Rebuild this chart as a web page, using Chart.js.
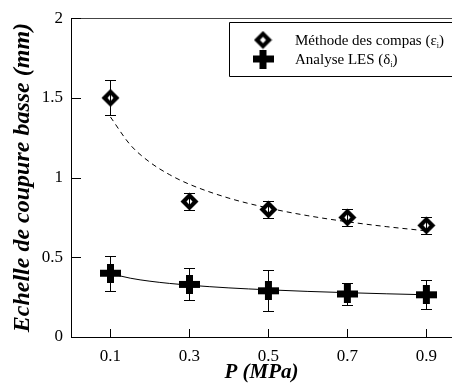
<!DOCTYPE html>
<html>
<head>
<meta charset="utf-8">
<script src="https://cdn.jsdelivr.net/npm/chart.js@4.4.1/dist/chart.umd.min.js"></script>
<style>
html,body{margin:0;padding:0;background:#fff;overflow:hidden;}
#wrap{width:452px;height:385px;}
</style>
</head>
<body>
<div id="wrap"><canvas id="c" width="452" height="385"></canvas></div>
<script>
// ---- data ----
const pressures = [0.1, 0.3, 0.5, 0.7, 0.9];
const compasValues = [1.5, 0.85, 0.80, 0.75, 0.70];
const compasErrors = [0.11, 0.055, 0.055, 0.055, 0.055];
const lesValues = [0.40, 0.33, 0.29, 0.27, 0.265];
const lesErrors = [0.11, 0.10, 0.13, 0.07, 0.09];
const fitP = [0.1, 0.15, 0.2, 0.25, 0.3, 0.4, 0.5, 0.6, 0.7, 0.8, 0.9];
const fitCompas = [1.38, 1.206, 1.096, 1.018, 0.958, 0.871, 0.809, 0.761, 0.723, 0.692, 0.666];
const fitLes = [0.398, 0.369, 0.350, 0.336, 0.325, 0.308, 0.296, 0.286, 0.278, 0.271, 0.265];
const xTicks = [0.1, 0.3, 0.5, 0.7, 0.9];
const yTicks = [0, 0.5, 1, 1.5, 2];
const legendLabels = ['Méthode des compas (ε', 'Analyse LES (δ'];

const FONT = "'Liberation Serif', 'Times New Roman', serif";

function makePlus(){
  const cv = document.createElement('canvas');
  cv.width = 21; cv.height = 19;
  const g = cv.getContext('2d');
  g.fillStyle = '#000';
  g.fillRect(0, 6, 21, 7);
  g.fillRect(7, 0, 7, 19);
  return cv;
}
const plusImg = makePlus();

function makeDiamond(){
  const cv = document.createElement('canvas');
  cv.width = 19; cv.height = 19;
  const g = cv.getContext('2d');
  const c = 9.5;
  g.fillStyle = '#000';
  g.beginPath();
  g.moveTo(c - 9, c); g.lineTo(c, c - 9); g.lineTo(c + 9, c); g.lineTo(c, c + 9); g.closePath();
  g.fill();
  g.fillStyle = '#fff';
  g.beginPath();
  g.moveTo(c - 3, c); g.lineTo(c, c - 3.2); g.lineTo(c + 3, c); g.lineTo(c, c + 3.2); g.closePath();
  g.fill();
  return cv;
}
const diamondImg = makeDiamond();

const toPts = (xs, ys) => xs.map((x, i) => ({x: x, y: ys[i]}));

const errorBars = {
  id: 'errorBars',
  afterDatasetsDraw(chart) {
    const ctx = chart.ctx;
    const xs = chart.scales.x, ys = chart.scales.y;
    const sets = [[compasValues, compasErrors], [lesValues, lesErrors]];
    ctx.save();
    ctx.strokeStyle = '#000';
    ctx.lineWidth = 1;
    sets.forEach(([vals, errs]) => {
      vals.forEach((v, i) => {
        const px = Math.round(xs.getPixelForValue(pressures[i])) + 0.5;
        const top = Math.round(ys.getPixelForValue(v + errs[i])) + 0.5;
        const bot = Math.round(ys.getPixelForValue(v - errs[i])) + 0.5;
        ctx.beginPath();
        ctx.moveTo(px, top); ctx.lineTo(px, bot);
        ctx.moveTo(px - 5.5, top); ctx.lineTo(px + 5.5, top);
        ctx.moveTo(px - 5.5, bot); ctx.lineTo(px + 5.5, bot);
        ctx.stroke();
      });
    });
    ctx.restore();
  }
};

const frame = {
  id: 'frame',
  afterDraw(chart) {
    const ctx = chart.ctx;
    const a = chart.chartArea;
    const xs = chart.scales.x, ys = chart.scales.y;
    ctx.save();
    ctx.strokeStyle = '#444';
    ctx.lineWidth = 1;
    ctx.beginPath();
    ctx.moveTo(a.left, Math.round(a.top) + 0.5);
    ctx.lineTo(a.right, Math.round(a.top) + 0.5);
    ctx.stroke();
    ctx.strokeStyle = '#000';
    ctx.beginPath();
    xTicks.forEach(t => {
      const px = Math.round(xs.getPixelForValue(t)) + 0.5;
      ctx.moveTo(px, a.bottom); ctx.lineTo(px, a.bottom - 8);
    });
    yTicks.forEach(t => {
      const py = Math.round(ys.getPixelForValue(t)) + 0.5;
      ctx.moveTo(a.left, py); ctx.lineTo(a.left + 10, py);
    });
    ctx.stroke();

    // legend box
    ctx.beginPath();
    ctx.rect(229.5, 22.5, 260, 54);
    ctx.stroke();
    const mx = 263, y1 = 40, y2 = 59;
    ctx.drawImage(diamondImg, mx - 9.5, y1 - 9.5);
    ctx.drawImage(plusImg, mx - 10.5, y2 - 9.5);
    ctx.fillStyle = '#000';
    ctx.textBaseline = 'alphabetic';
    [y1, y2].forEach((yy, i) => {
      ctx.font = '15px ' + FONT;
      const base = yy + 5;
      ctx.fillText(legendLabels[i], 295, base);
      const w = ctx.measureText(legendLabels[i]).width;
      ctx.font = '8px ' + FONT;
      ctx.fillText('i', 295 + w, base + 3);
      const w2 = ctx.measureText('i').width;
      ctx.font = '15px ' + FONT;
      ctx.fillText(')', 295 + w + w2, base);
    });
    ctx.restore();
  }
};

new Chart(document.getElementById('c'), {
  type: 'scatter',
  data: {
    datasets: [
      {
        type: 'line',
        data: toPts(fitP, fitCompas),
        borderColor: '#000',
        borderWidth: 1,
        borderDash: [5, 4],
        pointRadius: 0,
        cubicInterpolationMode: 'monotone',
        fill: false,
        order: 3
      },
      {
        type: 'line',
        data: toPts(fitP, fitLes),
        borderColor: '#000',
        borderWidth: 1,
        pointRadius: 0,
        cubicInterpolationMode: 'monotone',
        fill: false,
        order: 3
      },
      {
        data: toPts(pressures, compasValues),
        pointStyle: diamondImg,
        pointRadius: 9,
        borderColor: '#000',
        backgroundColor: '#fff',
        order: 1
      },
      {
        data: toPts(pressures, lesValues),
        pointStyle: plusImg,
        pointRadius: 10,
        borderColor: '#000',
        backgroundColor: '#000',
        order: 1
      }
    ]
  },
  options: {
    responsive: false,
    animation: false,
    events: [],
    layout: { autoPadding: false, padding: { top: 16, right: 0, left: 0, bottom: 0 } },
    plugins: { legend: { display: false }, tooltip: { enabled: false } },
    scales: {
      x: {
        type: 'linear',
        min: 0,
        max: 0.965,
        afterBuildTicks: s => { s.ticks = xTicks.map(v => ({value: v})); },
        afterFit: s => { s.height = 48; s.paddingRight = 0; s.paddingLeft = 0; },
        grid: { display: false, drawTicks: false },
        border: { display: true, color: '#000', width: 1 },
        ticks: {
          color: '#000',
          font: { family: FONT, size: 17 },
          padding: 9,
          maxRotation: 0,
          callback: v => v.toFixed(1)
        },
        title: {
          display: true,
          text: 'P (MPa)',
          color: '#000',
          font: { family: FONT, size: 21, weight: 'bold', style: 'italic' },
          padding: { top: 0, bottom: 0 }
        }
      },
      y: {
        min: 0,
        max: 2,
        afterBuildTicks: s => { s.ticks = yTicks.map(v => ({value: v})); },
        afterFit: s => { s.width = 71; },
        grid: { display: false, drawTicks: false },
        border: { display: true, color: '#000', width: 1 },
        ticks: {
          color: '#000',
          font: { family: FONT, size: 17 },
          padding: 8,
          callback: v => String(v)
        },
        title: {
          display: true,
          text: 'Echelle de coupure basse (mm)',
          color: '#000',
          font: { family: FONT, size: 24, weight: 'bold', style: 'italic' },
          padding: { top: 8, bottom: 0 }
        }
      }
    }
  },
  plugins: [errorBars, frame]
});
</script>
</body>
</html>
